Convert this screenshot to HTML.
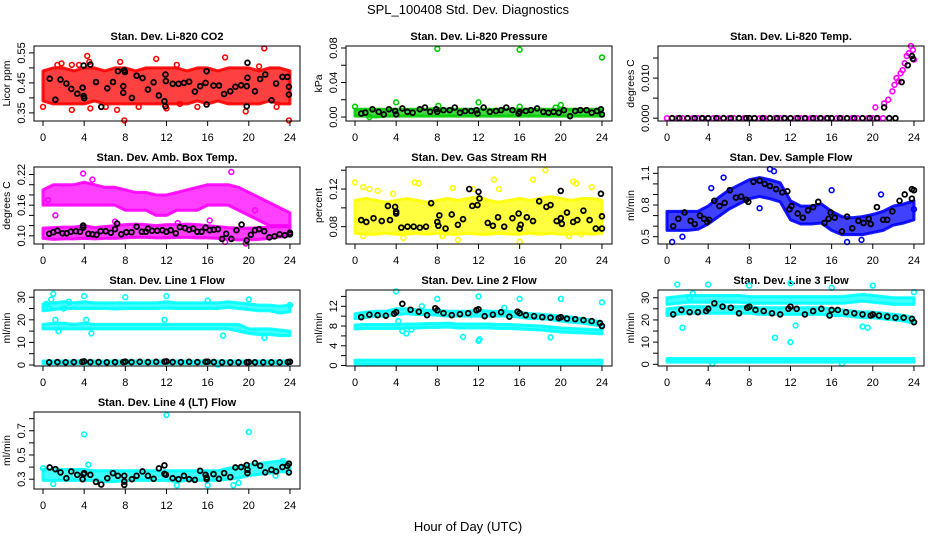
<!DOCTYPE html>
<html><head><meta charset="utf-8"><title>SPL_100408 Std. Dev. Diagnostics</title>
<style>html,body{margin:0;padding:0;background:#fff}svg{display:block;font-family:"Liberation Sans",sans-serif}</style>
</head><body>
<svg id="chart" width="936" height="540" viewBox="0 0 936 540" xmlns="http://www.w3.org/2000/svg">
<rect width="936" height="540" fill="#fff"/>
<text x="468" y="14" text-anchor="middle" font-size="13">SPL_100408  Std. Dev. Diagnostics</text>
<text x="468" y="531" text-anchor="middle" font-size="13">Hour of Day (UTC)</text>
</svg>
<script>
const HRS=[0,1,2,3,4,5,6,7,8,9,10,11,12,13,14,15,16,17,18,19,20,21,22,23,24];
const xTicks=[0,4,8,12,16,20,24];
const blkH=[0.6,1.4,2.2,3,3.8,4,4.6,5.4,6.2,7,7.8,8,8.6,9.4,10.2,11,11.8,12,12.6,13.4,14.2,15,15.8,16,16.6,17.4,18.2,19,19.8,20,20.6,21.4,22.2,23,23.8,24];
// CO2
const co2Lo=[0.39,0.38,0.38,0.38,0.38,0.39,0.38,0.38,0.38,0.38,0.38,0.38,0.38,0.38,0.38,0.39,0.38,0.39,0.38,0.38,0.38,0.38,0.39,0.38,0.38];
const co2Hi=[0.49,0.5,0.5,0.49,0.5,0.5,0.49,0.5,0.5,0.49,0.5,0.5,0.5,0.5,0.49,0.5,0.5,0.49,0.5,0.5,0.5,0.49,0.5,0.5,0.49];
const co2OutH=[4.3,4.5,1.4,2.8,3.5,11,7.5,13,17.7,21.5,0,2.8,7.2,7.9,9.3,12,19.7,22.7,23.9,4.6,6.1,13.3,15,1.8,21];
const co2OutV=[0.54,0.52,0.51,0.51,0.51,0.53,0.52,0.51,0.535,0.565,0.37,0.36,0.36,0.325,0.37,0.365,0.355,0.37,0.325,0.365,0.37,0.38,0.37,0.515,0.505];
const co2BH=[0.65,1.2,1.7,2.27,2.75,3.33,3.85,3.95,4,3.95,4.6,5.15,5.66,6.25,6.8,7.28,7.9,7.96,7.8,7.8,8.64,9.1,9.67,10.2,10.75,11.26,11.8,11.9,11.9,11.94,12.6,13.17,13.7,14.2,14.76,15.27,15.8,15.9,15.9,16.57,17.1,17.6,18.2,18.7,19.25,19.8,19.87,19.87,19.8,20.6,21.1,21.6,22.2,22.65,23.27,23.75,23.9,23.9];
const co2BV=[0.464,0.394,0.461,0.448,0.43,0.414,0.434,0.406,0.399,0.508,0.511,0.453,0.37,0.432,0.453,0.489,0.492,0.486,0.439,0.417,0.4,0.474,0.466,0.428,0.452,0.408,0.389,0.372,0.478,0.456,0.447,0.447,0.45,0.454,0.421,0.439,0.45,0.489,0.378,0.441,0.441,0.413,0.422,0.437,0.442,0.439,0.467,0.517,0.372,0.422,0.463,0.478,0.392,0.448,0.47,0.47,0.437,0.411];
// Pressure
const prLo=[0.001,0.001,0,0.001,0.001,0.001,0.001,0.001,0.001,0.001,0.001,0.001,0.001,0.001,0.001,0.001,0.001,0.001,0.001,0.001,0.001,0.001,0.001,0.001,0.001];
const prHi=[0.009,0.009,0.009,0.009,0.009,0.009,0.009,0.009,0.01,0.009,0.009,0.009,0.009,0.009,0.009,0.009,0.009,0.009,0.009,0.009,0.009,0.009,0.009,0.009,0.009];
const prOutH=[8,16,24,0,4,12,20,8.1,16,1.4,19.5];
const prOutV=[0.079,0.078,0.069,0.012,0.017,0.017,0.014,0.013,0.012,0.000,0.011];
const prBH=[0.6,1,1.7,2.3,2.8,3.3,3.9,4,4.6,5.1,5.6,6.3,6.8,7.3,7.9,8,8.6,9.2,9.7,10.2,10.7,11.3,11.8,11.9,12.5,13.1,13.7,14.2,14.7,15.3,15.9,16,16.6,17.1,17.7,18.3,18.8,19.3,19.8,20.3,20.9,21.4,21.9,22.5,23,23.5,23.9,24];
const prBV=[0.004,0.005,0.009,0.006,0.003,0.009,0.007,0.003,0.01,0.006,0.005,0.009,0.011,0.006,0.009,0.006,0.008,0.008,0.011,0.005,0.007,0.007,0.008,0.004,0.011,0.006,0.007,0.008,0.011,0.008,0.004,0.006,0.007,0.008,0.01,0.006,0.005,0.006,0.005,0.008,0.001,0.007,0.008,0.008,0.005,0.007,0.009,0.003];
// Li-820 temp
const tmH=[0,0.5,1,1.5,2,2.5,3,3.5,4,4.5,5,5.5,6,6.5,7,7.5,8,8.5,9,9.5,10,10.5,11,11.5,12,12.5,13,13.5,14,14.5,15,15.5,16,16.5,17,17.5,18,18.5,19,19.5,20,20.5,21,20.25,21.1,21.5,21.9,22.1,22.3,22.5,22.7,23.1,23.5,23.7,23.9,24,22.9,23.3];
const tmV=[0,0,0,0,0,0,0,0,0,0,0,0,0,0,0,0,0,0,0,0,0,0,0,0,0,0,0,0,0,0,0,0,0,0,0,0,0,0,0,0,0,0,0,0.0027,0.0037,0.0046,0.0067,0.0083,0.01,0.0092,0.0112,0.0137,0.0162,0.018,0.017,0.0146,0.012,0.0155];
const tmBH=[0.5,1.2,2,2.7,3.4,4,4.8,5.5,6.2,7,7.7,8,8.5,9.3,10,10.7,11.4,12,12.7,13.4,14.2,14.9,15.6,16,16.8,17.5,18.2,19,19.7,20.4,21.1,21.6,22.2,22.8,23.4,23.8,23.9];
const tmBV=[0,0,0,0,0,0,0,0,0,0,0,0,0,0,0,0,0,0,0,0,0,0,0,0,0,0,0,0,0,0,0.0027,0,0,0.009,0.0132,0.0155,0.0148];
// Amb box temp
const abULo=[0.16,0.16,0.16,0.16,0.16,0.16,0.16,0.16,0.15,0.15,0.15,0.14,0.14,0.15,0.15,0.15,0.16,0.16,0.16,0.15,0.14,0.13,0.12,0.12,0.12];
const abUHi=[0.19,0.2,0.2,0.2,0.205,0.2,0.195,0.195,0.19,0.185,0.185,0.18,0.18,0.185,0.19,0.195,0.2,0.2,0.2,0.195,0.185,0.175,0.165,0.155,0.145];
const abLLo=[0.095,0.093,0.094,0.094,0.095,0.094,0.095,0.095,0.096,0.097,0.097,0.096,0.096,0.097,0.097,0.096,0.096,0.095,0.093,0.092,0.092,0.093,0.095,0.098,0.1];
const abLHi=[0.115,0.116,0.117,0.117,0.12,0.116,0.118,0.12,0.122,0.123,0.122,0.12,0.122,0.122,0.123,0.122,0.12,0.118,0.116,0.115,0.115,0.116,0.117,0.118,0.118];
const abOutH=[3.9,18.3,4.8,0.5,1.2,20.6,17.7,7,19.7,13.1,16.2];
const abOutV=[0.222,0.225,0.21,0.17,0.14,0.15,0.088,0.128,0.085,0.125,0.13];
const abBH=[0.6,1,1.4,1.9,2.3,2.7,3.2,3.6,3.9,3.9,4.4,4.8,5.2,5.6,6.1,6.6,7,7.2,7.6,8.1,8.6,9.1,9.6,10,10.2,10.6,11.1,11.6,12,12.4,12.9,13.3,13.8,14.2,14.6,15,15.4,15.8,16.2,16.6,17,17.4,17.8,18.3,18.8,19.3,19.8,20.2,20.6,21,21.5,22,22.5,23,23.5,24,24];
const abBV=[0.104,0.107,0.110,0.105,0.105,0.108,0.109,0.108,0.116,0.12,0.104,0.103,0.102,0.109,0.109,0.106,0.113,0.124,0.103,0.107,0.107,0.118,0.108,0.108,0.114,0.11,0.11,0.111,0.108,0.111,0.105,0.117,0.115,0.112,0.114,0.108,0.108,0.116,0.111,0.112,0.113,0.094,0.104,0.094,0.111,0.122,0.091,0.102,0.111,0.113,0.109,0.097,0.099,0.103,0.101,0.103,0.106];
// Gas stream RH
const rhLo=[0.073,0.072,0.072,0.073,0.072,0.072,0.073,0.072,0.073,0.072,0.072,0.073,0.072,0.072,0.073,0.072,0.072,0.073,0.072,0.073,0.072,0.072,0.073,0.072,0.073];
const rhHi=[0.108,0.11,0.108,0.106,0.108,0.11,0.108,0.106,0.108,0.11,0.108,0.11,0.112,0.108,0.106,0.108,0.11,0.108,0.11,0.112,0.11,0.108,0.11,0.11,0.108];
const rhOutH=[0,0.8,1.4,2.2,5.8,6.2,13.5,14,17.3,18.5,21.2,21.5,23,10,16,4.7,8.5,0.8,20.8,22,11.5,9.5,3.7];
const rhOutV=[0.127,0.122,0.12,0.118,0.127,0.126,0.13,0.12,0.13,0.14,0.128,0.126,0.122,0.066,0.064,0.068,0.07,0.07,0.07,0.072,0.12,0.121,0.115];
const rhBH=[0.6,1.1,1.8,2.6,3.2,3.4,3.9,4,4,4.5,5.1,5.7,6.3,6.9,7.4,8,8.1,8.2,8.8,9.4,10,10.5,11.1,11.4,11.9,12,12.1,12.9,13.4,13.9,14.5,15.3,15.9,16,16.1,16.7,17.3,17.9,18.6,19,19.6,20,20,20.1,20.6,21.2,21.6,22.2,22.8,23.4,23.9,24,24];
const rhBV=[0.087,0.085,0.089,0.086,0.102,0.087,0.101,0.094,0.096,0.079,0.08,0.08,0.079,0.08,0.105,0.085,0.081,0.092,0.078,0.093,0.082,0.088,0.120,0.102,0.103,0.117,0.110,0.084,0.081,0.09,0.08,0.089,0.094,0.078,0.082,0.09,0.086,0.107,0.101,0.103,0.086,0.118,0.089,0.083,0.095,0.085,0.087,0.097,0.087,0.078,0.115,0.091,0.078];
// Sample flow
const sfLo=[0.56,0.56,0.56,0.57,0.62,0.69,0.76,0.81,0.86,0.88,0.86,0.83,0.66,0.62,0.62,0.63,0.56,0.52,0.52,0.52,0.54,0.56,0.61,0.63,0.66];
const sfHi=[0.74,0.74,0.74,0.74,0.79,0.87,0.94,0.99,1.04,1.06,1.04,1.01,0.84,0.79,0.79,0.81,0.74,0.69,0.68,0.69,0.71,0.74,0.79,0.81,0.84];
const sfOutH=[0.5,1.5,4.3,5.5,10,16,17.5,20.8,24,9,18.9,10.4];
const sfOutV=[0.45,0.5,0.96,1.06,1.14,0.94,0.45,0.9,0.76,0.77,0.47,1.12];
const sfBH=[0.6,1.1,1.7,2.3,2.7,3.2,3.6,3.9,4.1,4.6,5.1,5.6,6.1,6.7,7.2,7.7,7.9,8.4,9,9.5,10,10.6,11.2,11.7,11.9,12.1,12.7,13.2,13.7,14.2,14.7,15.3,15.7,15.9,16.3,17,17.5,18,18.6,19.1,19.6,19.8,20.4,21,21.4,21.9,22.6,23.1,23.8,23.8,24];
const sfBV=[0.6,0.67,0.73,0.65,0.62,0.7,0.67,0.64,0.66,0.84,0.79,0.82,0.94,0.87,0.88,0.85,0.83,1.02,1.03,1.0,0.98,0.95,0.92,0.93,0.76,0.79,0.72,0.68,0.75,0.78,0.83,0.63,0.67,0.73,0.68,0.55,0.69,0.58,0.65,0.63,0.67,0.62,0.78,0.66,0.66,0.74,0.84,0.9,0.86,0.95,0.94];
// Line 1 flow
const l1ULo=[24,24.5,25,25,25,25,25,24.8,25,25,25,25,25.2,25,25,25,25,25,25.5,25,24.5,24,24,23,23.5];
const l1UHi=[27,27.5,28,27.5,28,27.5,27.5,27.5,27.5,27.5,27.5,27.5,28,27.5,27.5,27.5,27.5,27.5,28,27.5,27,26.5,26.5,26,26.5];
const l1MLo=[16,16,16,16,16,16,16,16,16,16,16,16,16,16,16,16,16,16,16,15,14,13.5,13.5,13,13];
const l1MHi=[18,18.5,18.5,18,18.5,18,18,18,18,18,18,18,18,18,18,18,18,18,18,18,16,16,16,15.5,15];
const l1BLo=[0.6,0.6,0.6,0.6,0.6,0.6,0.6,0.6,0.6,0.6,0.6,0.6,0.6,0.6,0.6,0.6,0.6,0.6,0.6,0.6,0.6,0.6,0.6,0.6,0.6];
const l1BHi=[1.8,1.8,1.8,1.8,1.9,1.8,1.8,1.8,1.9,1.8,1.8,1.8,1.9,1.8,1.8,1.8,1.9,1.8,1.8,1.8,1.8,1.8,1.8,1.8,1.8];
const l1OutH=[0.3,0.6,0.8,1,4,8,12,16,20,24,1.2,1.5,4.2,4.7,17.5,21.5,11.8,17,2,2.5];
const l1OutV=[27,25,29,31.5,30.5,30,30.5,28.5,29,26.5,20,15,20,14,13,12,20,0.2,25,28];
const l1BV=[1.2,1.3,1.2,1.3,1.4,1.6,1.3,1.3,1.2,1.3,1.3,1.5,1.3,1.4,1.3,1.4,1.5,1.6,1.3,1.3,1.4,1.3,1.4,1.5,1.3,1.2,1.2,1.2,1.2,1.3,1.2,1.2,1.2,1.2,1.3,1.4];
// Line 2 flow
const l2ULo=[9.5,9.7,10,10,10.3,10.5,10.3,10.3,10.2,10,10,10,10,10,10,10,9.8,9.5,9.5,9.3,9,8.8,8.6,8.3,8];
const l2UHi=[10.5,10.8,11,11,11.5,11.5,11.3,11.2,11.2,11,11,11,11.2,11,11,11,10.8,10.5,10.4,10.2,10,9.8,9.5,9.2,8.8];
const l2MLo=[7.4,7.5,7.5,7.5,7.5,7.6,7.6,7.7,7.7,7.8,7.6,7.6,7.6,7.6,7.5,7.5,7.4,7.3,7.2,7,6.8,6.7,6.6,6.5,6.4];
const l2MHi=[8.2,8.3,8.3,8.3,8.3,8.4,8.4,8.5,8.5,8.6,8.4,8.4,8.4,8.4,8.3,8.3,8.2,8.1,8,7.8,7.6,7.5,7.4,7.3,7.2];
const l2BLo=[0.3,0.3,0.3,0.3,0.3,0.3,0.3,0.3,0.3,0.3,0.3,0.3,0.3,0.3,0.3,0.3,0.3,0.3,0.3,0.3,0.3,0.3,0.3,0.3,0.3];
const l2BHi=[1.1,1.1,1.1,1.1,1.1,1.1,1.1,1.1,1.1,1.1,1.1,1.1,1.1,1.1,1.1,1.1,1.1,1.1,1.1,1.1,1.1,1.1,1.1,1.1,1.1];
const l2OutH=[4,8,12,16,20,24,5,4.6,10.5,12,12.1,19,4.2,6.5,14.5,5.5];
const l2OutV=[15,13.5,14,13.5,13.5,12.8,6.5,7,5.8,5,5.3,5.7,9,12,11.7,7.3];
const l2BV=[9.8,10.3,10.2,10.1,10.5,10.8,12.5,11.3,10.9,10.2,11.6,11.2,10.6,10.2,10.4,10.6,11.2,11.4,10.0,10.3,10.8,9.9,10.9,10.6,10.2,10.0,9.8,9.7,9.6,9.8,9.5,9.4,9.2,9.0,8.6,8.0];
// Line 3 flow
const l3ULo=[27,27.5,28,28,28,28,28,28,27.5,27.5,27.5,27.5,27.5,27.5,27.5,27.5,27.5,27.5,28,28.5,28,27.5,27,27,27];
const l3UHi=[30,30.5,31,31,31,31,31,31,30.5,30.5,30.5,30.5,30.5,30.5,30.5,30.5,30.5,30.5,31,31.5,31,30.5,30,30,30];
const l3MLo=[22,22.5,23,23,23,23,23,23,23,22.5,22.5,22.5,22.5,22.5,22.5,22.5,22,22,21.5,21,21,20.5,20,19.5,18.5];
const l3MHi=[25,25.5,26,26,26,26.5,26,26,26,25.5,25.5,25.5,25.5,25.5,25.5,25.5,25,24.5,24,23.5,23.5,23,22.5,22,21];
const l3BLo=[1,1,1,1,1,1,1,1,1,1,1,1,1,1,1,1,1,1,1,1,1,1,1,1,1];
const l3BHi=[2.6,2.6,2.6,2.6,2.6,2.6,2.6,2.6,2.6,2.6,2.6,2.6,2.6,2.6,2.6,2.6,2.6,2.6,2.6,2.6,2.6,2.6,2.6,2.6,2.6];
const l3OutH=[1,4,8,12,16,20,24,1.5,10.5,12,12.5,19,19.5,4.4,17,2.2,2.5];
const l3OutV=[36,36,35.5,36.5,34.5,35.5,32.5,16.5,12,10,17.5,17,16.5,0.3,0.3,30,32];
const l3BV=[22.5,24.5,23.5,23.5,24,25,27.5,26,25.5,23,25.5,26,24.5,24,23,22.5,25,26,25,22.5,24,25,22,24.5,24.5,23.5,23,22.5,22,22.5,22,21.5,21,21,20.5,19];
// Line 4 flow
const l4Lo=[0.29,0.29,0.29,0.29,0.29,0.29,0.28,0.28,0.29,0.29,0.29,0.29,0.29,0.28,0.29,0.29,0.29,0.29,0.3,0.31,0.33,0.34,0.35,0.36,0.36];
const l4Hi=[0.38,0.38,0.38,0.38,0.38,0.37,0.37,0.37,0.37,0.37,0.37,0.37,0.37,0.37,0.37,0.37,0.37,0.37,0.39,0.4,0.42,0.43,0.44,0.45,0.44];
const l4OutH=[4,4.4,12,20,1,18.5,19,13,16,22.6,0,23.3];
const l4OutV=[0.67,0.42,0.83,0.69,0.26,0.25,0.27,0.25,0.25,0.33,0.39,0.45];
const l4BH=[0.65,1.2,1.7,2.27,2.75,3.33,3.85,3.95,4,4.6,5.15,5.66,6.25,6.8,7.28,7.9,7.9,7.9,8.64,9.1,9.67,10.2,10.75,11.26,11.8,11.8,11.94,12.6,13.17,13.7,14.2,14.76,15.27,15.8,15.9,15.9,16.57,17.1,17.6,18.2,18.7,19.25,19.8,19.87,19.87,20.6,21.1,21.6,22.2,22.65,23.27,23.75,23.9,23.9];
const l4BV=[0.397,0.383,0.356,0.308,0.364,0.336,0.3,0.342,0.35,0.336,0.278,0.256,0.308,0.35,0.328,0.328,0.28,0.253,0.3,0.328,0.364,0.328,0.303,0.389,0.414,0.344,0.336,0.308,0.3,0.328,0.3,0.294,0.369,0.336,0.314,0.3,0.342,0.303,0.35,0.317,0.397,0.4,0.417,0.378,0.35,0.433,0.411,0.356,0.378,0.364,0.4,0.411,0.428,0.356];

const svg=document.getElementById('chart');
const NS='http://www.w3.org/2000/svg';
const colL=[34,346,658], rowT=[46,167,290,412], rowB=[121,244,366,489], W=266;
function mk(tag,attrs,parent){const e=document.createElementNS(NS,tag);for(const k in attrs)e.setAttribute(k,attrs[k]);(parent||svg).appendChild(e);return e;}

function panel(cfg){
  const L=colL[cfg.col], T=rowT[cfg.row], B=rowB[cfg.row];
  const xs=h=>L+9+h*10.29;
  const ys=v=>B-(v-cfg.ylim[0])/(cfg.ylim[1]-cfg.ylim[0])*(B-T);
  const g=mk('g',{});
  
  
  const tt=mk('text',{x:L+W/2,y:T-6,'text-anchor':'middle','font-size':11,'font-weight':'bold'},g);
  tt.textContent=cfg.title;
  
  
  cfg.layers.forEach(ly=>{
    if(ly.t==='band'){
      let pts=[];
      HRS.forEach((h,i)=>pts.push(xs(h)+','+ys(ly.hi[i])));
      for(let i=HRS.length-1;i>=0;i--)pts.push(xs(HRS[i])+','+ys(ly.lo[i]));
      const p=mk('polygon',{points:pts.join(' '),fill:ly.c,'fill-opacity':0.75,stroke:ly.c,'stroke-opacity':0.9,'stroke-width':3,'stroke-linejoin':'round'},g);
      
      
    } else {
      const sw = ly.c==='#000000' ? 1.8 : 1.6;
      ly.x.forEach((h,i)=>{
        const c=mk('circle',{cx:xs(h),cy:ys(ly.y[i]),r:2.4,fill:'none',stroke:ly.c,'stroke-width':sw},g);
        
        
      });
    }
  });
  const bx=mk('rect',{x:L,y:T,width:W,height:B-T,fill:'none',stroke:'#000','stroke-width':1},g);
  
  
  xTicks.forEach(h=>{
    mk('line',{x1:xs(h),x2:xs(h),y1:B,y2:B+5,stroke:'#000'},g);
    const t=mk('text',{x:xs(h),y:B+20,'text-anchor':'middle','font-size':11},g);
    t.textContent=h;
    
    
  });
  mk('line',{x1:xs(0),x2:xs(24),y1:B,y2:B,stroke:'#000'},g);
  const yt=cfg.ticks;
  mk('line',{x1:L,x2:L,y1:ys(yt[0]),y2:ys(yt[yt.length-1]),stroke:'#000'},g);
  yt.forEach(v=>mk('line',{x1:L-5,x2:L,y1:ys(v),y2:ys(v),stroke:'#000'},g));
  cfg.labels.forEach(s=>{
    const y=ys(parseFloat(s));
    const t=mk('text',{x:L-9,y:y,'text-anchor':'middle','font-size':11,transform:`rotate(-90 ${L-9} ${y})`},g);
    t.textContent=s;
    
    
  });
  const yc=(T+B)/2;
  const yl=mk('text',{x:L-24,y:yc,'text-anchor':'middle','font-size':10.5,transform:`rotate(-90 ${L-24} ${yc})`},g);
  yl.textContent=cfg.ylab;
  
  
}
const R='#ff0000',G='#00cc00',M='#ff00ff',Y='#ffff00',Bl='#0000ff',C='#00ffff',K='#000000';
panel({name:'co2-panel',col:0,row:0,title:'Stan. Dev. Li-820 CO2',ylab:'Licor ppm',ylim:[0.323,0.573],ticks:[0.35,0.4,0.45,0.5,0.55],labels:['0.35','0.45','0.55'],
 layers:[{t:'band',lo:co2Lo,hi:co2Hi,c:R},{t:'p',x:co2OutH,y:co2OutV,c:R},{t:'p',x:co2BH,y:co2BV,c:K}]});
panel({name:'pressure-panel',col:1,row:0,title:'Stan. Dev. Li-820 Pressure',ylab:'kPa',ylim:[-0.0046,0.0823],ticks:[0,0.02,0.04,0.06,0.08],labels:['0.00','0.04','0.08'],
 layers:[{t:'band',lo:prLo,hi:prHi,c:G},{t:'p',x:prOutH,y:prOutV,c:G},{t:'p',x:prBH,y:prBV,c:K}]});
panel({name:'li820-temp-panel',col:2,row:0,title:'Stan. Dev. Li-820 Temp.',ylab:'degrees C',ylim:[-0.0007,0.018],ticks:[0,0.005,0.01,0.015],labels:['0.000','0.010'],
 layers:[{t:'p',x:tmH,y:tmV,c:M},{t:'p',x:tmBH,y:tmBV,c:K}]});
panel({name:'amb-box-temp-panel',col:0,row:1,title:'Stan. Dev. Amb. Box Temp.',ylab:'degrees C',ylim:[0.084,0.2347],ticks:[0.1,0.12,0.14,0.16,0.18,0.2,0.22],labels:['0.10','0.16','0.22'],
 layers:[{t:'band',lo:abULo,hi:abUHi,c:M},{t:'band',lo:abLLo,hi:abLHi,c:M},{t:'p',x:abOutH,y:abOutV,c:M},{t:'p',x:abBH,y:abBV,c:K}]});
panel({name:'gas-rh-panel',col:1,row:1,title:'Stan. Dev. Gas Stream RH',ylab:'percent',ylim:[0.0616,0.1434],ticks:[0.08,0.1,0.12,0.14],labels:['0.08','0.12'],
 layers:[{t:'band',lo:rhLo,hi:rhHi,c:Y},{t:'p',x:rhOutH,y:rhOutV,c:Y},{t:'p',x:rhBH,y:rhBV,c:K}]});
panel({name:'sample-flow-panel',col:2,row:1,title:'Stan. Dev. Sample Flow',ylab:'ml/min',ylim:[0.431,1.16],ticks:[0.5,0.6,0.7,0.8,0.9,1.0,1.1],labels:['0.5','0.8','1.1'],
 layers:[{t:'band',lo:sfLo,hi:sfHi,c:Bl},{t:'p',x:sfOutH,y:sfOutV,c:Bl},{t:'p',x:sfBH,y:sfBV,c:K}]});
panel({name:'line1-flow-panel',col:0,row:2,title:'Stan. Dev. Line 1 Flow',ylab:'ml/min',ylim:[-0.44,33.2],ticks:[0,5,10,15,20,25,30],labels:['0','10','20','30'],
 layers:[{t:'band',lo:l1ULo,hi:l1UHi,c:C},{t:'band',lo:l1MLo,hi:l1MHi,c:C},{t:'band',lo:l1BLo,hi:l1BHi,c:C},{t:'p',x:l1OutH,y:l1OutV,c:C},{t:'p',x:blkH,y:l1BV,c:K}]});
panel({name:'line2-flow-panel',col:1,row:2,title:'Stan. Dev. Line 2 Flow',ylab:'ml/min',ylim:[-0.1,15.3],ticks:[0,2,4,6,8,10,12,14],labels:['0','4','8','12'],
 layers:[{t:'band',lo:l2ULo,hi:l2UHi,c:C},{t:'band',lo:l2MLo,hi:l2MHi,c:C},{t:'band',lo:l2BLo,hi:l2BHi,c:C},{t:'p',x:l2OutH,y:l2OutV,c:C},{t:'p',x:blkH,y:l2BV,c:K}]});
panel({name:'line3-flow-panel',col:2,row:2,title:'Stan. Dev. Line 3 Flow',ylab:'ml/min',ylim:[-0.77,33.5],ticks:[0,5,10,15,20,25,30],labels:['0','10','20','30'],
 layers:[{t:'band',lo:l3ULo,hi:l3UHi,c:C},{t:'band',lo:l3MLo,hi:l3MHi,c:C},{t:'band',lo:l3BLo,hi:l3BHi,c:C},{t:'p',x:l3OutH,y:l3OutV,c:C},{t:'p',x:blkH,y:l3BV,c:K}]});
panel({name:'line4-flow-panel',col:0,row:3,title:'Stan. Dev. Line 4 (LT) Flow',ylab:'ml/min',ylim:[0.219,0.855],ticks:[0.3,0.4,0.5,0.6,0.7,0.8],labels:['0.3','0.5','0.7'],
 layers:[{t:'band',lo:l4Lo,hi:l4Hi,c:C},{t:'p',x:l4OutH,y:l4OutV,c:C},{t:'p',x:l4BH,y:l4BV,c:K}]});
</script>
</body></html>
